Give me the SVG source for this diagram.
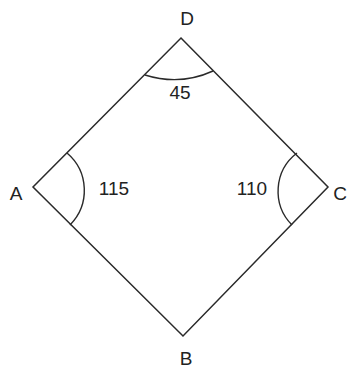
<svg xmlns="http://www.w3.org/2000/svg" width="348" height="369" viewBox="0 0 348 369">
<style>
.e{fill:none;stroke:#2a2a2a;stroke-width:1.5}
.a{fill:none;stroke:#2a2a2a;stroke-width:1.4}
text{font-family:"Liberation Sans",Arial,sans-serif;font-size:19px;fill:#222}
</style>
<rect width="348" height="369" fill="#fff"/>
<g id="connectors">
<path class="e" d="M181,38 L328,187 L183,336 L33,187 Z"/>
</g>
<g id="D"><text x="187" y="25" text-anchor="middle">D</text><path class="a" d="M145,75 Q180,86 213,71"/><text x="180" y="99" text-anchor="middle">45</text></g>
<g id="A"><text x="16" y="200" text-anchor="middle">A</text><path class="a" d="M67,153 A49,49 0 0 1 70,225"/><text x="114" y="195" text-anchor="middle">115</text></g>
<g id="C"><text x="340" y="200" text-anchor="middle">C</text><path class="a" d="M297,153 A48,48 0 0 0 292,225"/><text x="252" y="195" text-anchor="middle">110</text></g>
<g id="B"><text x="186" y="365" text-anchor="middle">B</text></g>
</svg>
